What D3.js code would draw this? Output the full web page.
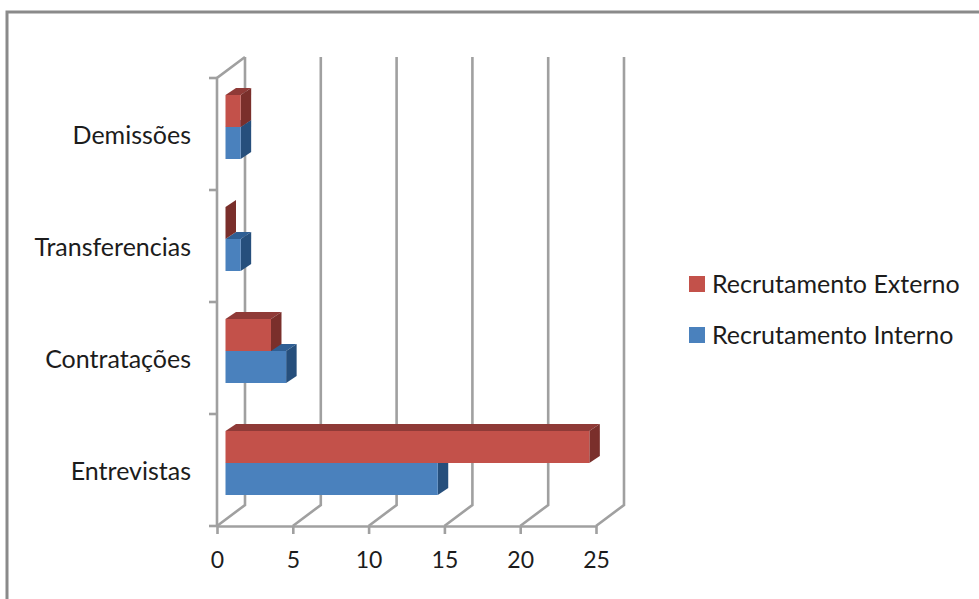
<!DOCTYPE html>
<html>
<head>
<meta charset="utf-8">
<script src="https://cdn.jsdelivr.net/npm/d3@7"></script>
<style>
  html, body { margin: 0; padding: 0; background: #fff; }
  svg { display: block; }
  text { font-family: Lato, "Open Sans", sans-serif; fill: #1c1c1c; }
</style>
</head>
<body>
<svg id="chart" width="979" height="599"></svg>
<script>
// Chart data
const categories = ["Entrevistas", "Contratações", "Transferencias", "Demissões"];
const interno = [14, 4, 1, 1];
const externo = [24, 3, 0, 1];
const seriesNames = ["Recrutamento Externo", "Recrutamento Interno"];
const xTicks = [0, 5, 10, 15, 20, 25];

// Colours for each bar: front face, top face, side face
const palette = {
  interno: { face: "#4a81bd", top: "#2f5f94", side: "#264f7c" },
  externo: { face: "#c3514a", top: "#8f3a37", side: "#7a2f2b" }
};
const gridColour = "#a0a0a0";

// Oblique projection offsets: wall depth and the plane the bars sit on
const wall = { dx: 28, dy: -21 };
const barPlane = { dx: 8.5, dy: -7 };
const barDepth = { dx: 10.5, dy: -7 };
const barHeight = 32;

const x = d3.scaleLinear().domain([0, 25]).range([217, 596]);
const y = d3.scaleBand().domain(categories).range([526, 78]);

const svg = d3.select("#chart");

// Outer frame, open at the right and bottom
svg.append("path")
  .attr("d", "M7,599V12H979")
  .attr("fill", "none")
  .attr("stroke", "#8a8a8a")
  .attr("stroke-width", 3);

// Walls and floor
const grid = svg.append("g")
  .attr("fill", "none")
  .attr("stroke", gridColour)
  .attr("stroke-width", 2.6);

grid.selectAll("path.vertical")
  .data(xTicks)
  .join("path")
  .attr("class", "vertical")
  .attr("d", d => `M${x(d)},${y.range()[0]}l${wall.dx},${wall.dy}V${y.range()[1] + wall.dy}`);

grid.append("path")
  .attr("d", `M${x(0)},${y.range()[0]}V${y.range()[1]}l${wall.dx},${wall.dy}`);

// Category separator ticks on the left
const boundaries = d3.range(categories.length + 1).map(i => y.range()[0] - i * y.step());
grid.selectAll("path.ytick")
  .data(boundaries)
  .join("path")
  .attr("class", "ytick")
  .attr("d", d => `M${x(0) - 8},${d}H${x(0)}`);

// Value axis along the floor
const xAxis = svg.append("g")
  .attr("transform", `translate(0,${y.range()[0]})`)
  .call(d3.axisBottom(x).tickValues(xTicks).tickSize(8).tickPadding(18).tickSizeOuter(0));
xAxis.select(".domain").attr("stroke", gridColour).attr("stroke-width", 2.6);
xAxis.selectAll(".tick line").attr("stroke", gridColour).attr("stroke-width", 2.6);
xAxis.selectAll("text").attr("font-size", 23).style("font-family", "Lato").attr("fill", "#1c1c1c");

// Category labels
const yAxis = svg.append("g")
  .attr("transform", "translate(191,2)")
  .call(d3.axisLeft(y).tickSize(0).tickPadding(0));
yAxis.select(".domain").remove();
yAxis.selectAll("text").attr("font-size", 25).style("font-family", "Lato").attr("fill", "#1c1c1c");

// Draws one 3D bar per category; values start from the bar plane
function drawBars(values, colours, rowOffset) {
  const bars = svg.append("g")
    .selectAll("g")
    .data(values.map((v, i) => ({ v, cat: categories[i] })))
    .join("g");

  const left = x(0) + barPlane.dx;
  const right = d => x(d.v) + barPlane.dx;
  const top = d => y(d.cat) + y.bandwidth() / 2 + barPlane.dy + rowOffset;

  bars.append("path")
    .attr("fill", colours.top)
    .attr("d", d => `M${left},${top(d)}l${barDepth.dx},${barDepth.dy}H${right(d) + barDepth.dx}L${right(d)},${top(d)}Z`);
  bars.append("path")
    .attr("fill", colours.side)
    .attr("d", d => `M${right(d)},${top(d)}l${barDepth.dx},${barDepth.dy}v${barHeight}l${-barDepth.dx},${-barDepth.dy}Z`);
  bars.append("rect")
    .attr("fill", colours.face)
    .attr("x", left)
    .attr("y", top)
    .attr("width", d => right(d) - left)
    .attr("height", barHeight);
}

drawBars(interno, palette.interno, 0);
drawBars(externo, palette.externo, -barHeight);

// Legend
const legendColours = [palette.externo.face, palette.interno.face];
const legendRow = d3.scalePoint().domain(seriesNames).range([284, 335]);
const legend = svg.append("g")
  .selectAll("g")
  .data(seriesNames)
  .join("g")
  .attr("transform", d => `translate(689,${legendRow(d)})`);
legend.append("rect")
  .attr("y", -8)
  .attr("width", 16)
  .attr("height", 16)
  .attr("fill", (d, i) => legendColours[i]);
legend.append("text")
  .attr("x", 23)
  .attr("dy", "0.34em")
  .attr("font-size", 25)
  .text(d => d);
</script>
</body>
</html>
